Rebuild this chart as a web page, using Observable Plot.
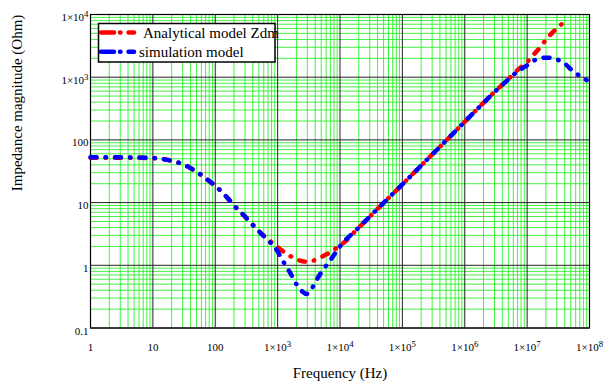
<!DOCTYPE html>
<html><head><meta charset="utf-8">
<script src="https://cdn.jsdelivr.net/npm/d3@7"></script>
<script src="https://cdn.jsdelivr.net/npm/@observablehq/plot@0.6"></script>
<style>body{margin:0;background:#fff} #chart{width:606px;height:385px}</style>
</head><body><div id="chart"></div>
<script>
const seriesNames = ["Analytical model Zdm", "simulation model"];
const seriesColors = ["#ff0000", "#0000ff"];

const freqAnalytical = [1,2,5,10,15,20,30,40,50,70,100,150,200,300,500,700,1000,1300,1600,2000,2500,3000,3500,4500,5500,7000,8500,1e4,2e4,5e4,1e5,2e5,5e5,1e6,2e6,3e6,5e6,7e6,1e7,1.25e7,1.6e7,2.1e7,3e7,4.2e7];
const zAnalytical    = [52,52,51.8,51,49,46.5,41,35.5,31,24.5,18.5,12.5,9,6,3.5,2.6,1.95,1.6,1.4,1.25,1.16,1.14,1.16,1.29,1.42,1.62,1.85,2.05,4,9.9,19.5,39,97,195,390,580,930,1300,1750,2250,2950,4200,6000,8000];

const freqSimulation = [1,2,5,10,15,20,30,40,50,70,100,150,200,300,500,700,900,1100,1300,1600,2000,2500,2900,3300,3700,4200,4700,5500,7000,8500,1e4,2e4,5e4,1e5,2e5,5e5,1e6,2e6,3e6,5e6,7e6,1e7,1.3e7,1.6e7,2e7,2.5e7,3e7,4e7,5.4e7,7e7,9e7];
const zSimulation    = [53,53,52.5,51.5,49,46.5,41,35.5,31,24.5,18.5,12.5,9,6,3.5,2.5,1.95,1.4,1.05,0.75,0.5,0.38,0.35,0.38,0.46,0.58,0.7,0.88,1.2,1.6,2.0,4,9.9,19.5,39,97,195,390,580,920,1230,1550,1850,2000,2050,2020,1920,1650,1260,1050,900];

const xTicks = [1,10,100,1e3,1e4,1e5,1e6,1e7,1e8];
const xTickLabels = ["1","10","100","1×10^3","1×10^4","1×10^5","1×10^6","1×10^7","1×10^8"];
const yTicks = [0.1,1,10,100,1e3,1e4];
const yTickLabels = ["0.1","1","10","100","1×10^3","1×10^4"];
const minorMultipliers = [2,3,4,5,6,7,8,9];

const xLabel = "Frequency (Hz)";
const yLabel = "Impedance magnitude (Ohm)";

const minorX = xTicks.slice(0,-1).flatMap(d => minorMultipliers.map(k => d*k));
const minorY = yTicks.slice(0,-1).flatMap(d => minorMultipliers.map(k => d*k));
const analytical = freqAnalytical.map((f,i) => ({f, z: zAnalytical[i]}));
const simulation = freqSimulation.map((f,i) => ({f, z: zSimulation[i]}));
const xFmt = new Map(xTicks.map((t,i) => [t, xTickLabels[i]]));
const yFmt = new Map(yTicks.map((t,i) => [t, yTickLabels[i]]));

const dash = "6,9,0.5,9";
const green = "#22ee22";
const serif = "'Liberation Serif', 'Times New Roman', serif";

const plot = Plot.plot({
  width: 606, height: 385,
  marginLeft: 90, marginRight: 17, marginTop: 14, marginBottom: 57.5,
  style: {fontFamily: serif, fontSize: "11px", color: "#000", background: "#fff"},
  x: {type: "log", domain: [1, 1e8]},
  y: {type: "log", domain: [0.1, 1e4]},
  marks: [
    Plot.gridX(minorX, {stroke: green, strokeOpacity: 0.85, strokeWidth: 1}),
    Plot.gridY(minorY, {stroke: green, strokeOpacity: 0.85, strokeWidth: 1}),
    Plot.gridX(xTicks, {stroke: "#222", strokeOpacity: 1, strokeWidth: 1}),
    Plot.gridY(yTicks, {stroke: "#222", strokeOpacity: 1, strokeWidth: 1}),
    Plot.frame({stroke: "#000", strokeWidth: 1.2}),
    Plot.axisX(xTicks, {tickSize: 0, tickPadding: 15.5, tickFormat: d => xFmt.get(d), label: null, fontSize: 11}),
    Plot.axisY(yTicks, {tickSize: 0, tickPadding: 2, tickFormat: d => yFmt.get(d), label: null, dy: 3, fontSize: 11}),
    Plot.text([xLabel], {frameAnchor: "bottom", dy: 49.5, fontSize: 15, text: d => d}),
    Plot.text([yLabel], {frameAnchor: "left", rotate: -90, dx: -73, dy: 20, fontSize: 15, text: d => d}),
    Plot.line(analytical, {x: "f", y: "z", stroke: seriesColors[0], strokeWidth: 4.5, strokeLinecap: "round", strokeDasharray: dash, curve: "monotone-x"}),
    Plot.line(simulation, {x: "f", y: "z", stroke: seriesColors[1], strokeWidth: 4.5, strokeLinecap: "round", strokeDasharray: dash, curve: "monotone-x"})
  ]
});

const svg = d3.select(plot);
svg.selectAll("text").each(function() {
  const t = this.textContent;
  if (t.includes("^")) {
    const [base, exp] = t.split("^");
    const sel = d3.select(this);
    sel.text("");
    sel.append("tspan").text(base);
    sel.append("tspan").attr("dy", "-0.45em").attr("font-size", "0.8em").text(exp);
  }
});

const lg = svg.append("g").attr("font-family", serif).attr("font-size", 15).attr("text-anchor", "start");
lg.append("rect").attr("x", 98.5).attr("y", 23.5).attr("width", 176.5).attr("height", 38.5)
  .attr("fill", "#fff").attr("stroke", "#000").attr("stroke-width", 1.5);
const rows = [{y: 32.5, tx: 143, base: 37.5}, {y: 51.7, tx: 139, base: 57}];
rows.forEach((r, i) => {
  lg.append("line").attr("x1", 101).attr("x2", 134).attr("y1", r.y).attr("y2", r.y)
    .attr("stroke", seriesColors[i]).attr("stroke-width", 4.5).attr("stroke-linecap", "round")
    .attr("stroke-dasharray", "13,6,0.5,8");
  lg.append("text").attr("x", r.tx).attr("y", r.base).attr("fill", "#000").attr("text-anchor", "start").text(seriesNames[i]);
});

document.getElementById("chart").appendChild(plot);
</script>
</body></html>
